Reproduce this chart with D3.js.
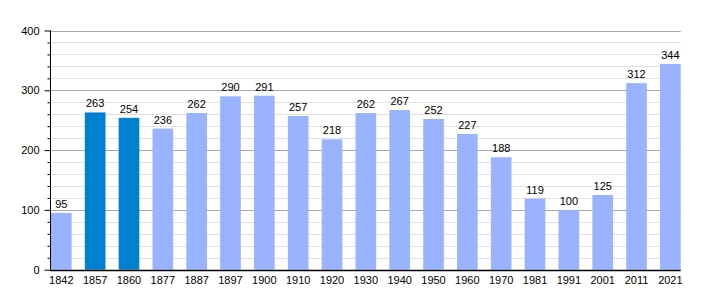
<!DOCTYPE html>
<html>
<head>
<meta charset="utf-8">
<script src="https://cdn.jsdelivr.net/npm/d3@7"></script>
<style>
  body { margin: 0; background: #fff; }
  text { font-family: "Liberation Sans", Arial, sans-serif; font-size: 11px; fill: #000; }
</style>
</head>
<body>
<svg id="chart" width="710" height="300"></svg>
<script>
const years = ["1842", "1857", "1860", "1877", "1887", "1897", "1900", "1910", "1920", "1930",
  "1940", "1950", "1960", "1970", "1981", "1991", "2001", "2011", "2021"];
const population = [95, 263, 254, 236, 262, 290, 291, 257, 218, 262,
  267, 252, 227, 188, 119, 100, 125, 312, 344];
const highlighted = ["1857", "1860"];
const yTicks = [0, 100, 200, 300, 400];

const svg = d3.select("#chart");
const plotLeft = 50, plotRight = 680.7, plotTop = 30.5, plotBottom = 269.7;

const x = d3.scaleBand()
  .domain(years)
  .range([plotLeft + 1, plotRight])
  .paddingInner(0.39)
  .paddingOuter(0)
  .align(0);

const y = d3.scaleLinear().domain([0, 400]).range([plotBottom, plotTop]);

// minor gridlines
svg.append("g")
  .selectAll("line")
  .data(d3.range(20, 400, 20).filter((d) => d % 100 !== 0))
  .join("line")
  .attr("x1", plotLeft)
  .attr("x2", plotRight)
  .attr("y1", (d) => Math.round(y(d)) + 0.5)
  .attr("y2", (d) => Math.round(y(d)) + 0.5)
  .attr("stroke", "#e0e0e0");

// major gridlines
svg.append("g")
  .selectAll("line")
  .data(yTicks.filter((d) => d > 0))
  .join("line")
  .attr("x1", plotLeft)
  .attr("x2", plotRight)
  .attr("y1", (d) => Math.round(y(d)) + 0.5)
  .attr("y2", (d) => Math.round(y(d)) + 0.5)
  .attr("stroke", "#a8a8a8");

// bars
svg.append("g")
  .selectAll("rect")
  .data(years)
  .join("rect")
  .attr("x", (d) => x(d))
  .attr("width", x.bandwidth())
  .attr("y", (d, i) => y(population[i]))
  .attr("height", (d, i) => y(0) - y(population[i]))
  .attr("fill", (d) => (highlighted.includes(d) ? "#0080d0" : "#99b3ff"));

// value labels
svg.append("g")
  .selectAll("text")
  .data(years)
  .join("text")
  .attr("x", (d) => x(d) + x.bandwidth() / 2)
  .attr("y", (d, i) => y(population[i]) - 5)
  .attr("text-anchor", "middle")
  .text((d, i) => population[i]);

// y axis
const yAxis = svg.append("g").attr("transform", `translate(${plotLeft + 0.5},0)`);
yAxis.call(
  d3.axisLeft(y)
    .tickValues(d3.range(0, 401, 20))
    .tickSize(3)
    .tickFormat("")
);
yAxis.selectAll(".tick text").remove();
yAxis.selectAll(".tick")
  .filter((d) => d % 100 === 0)
  .select("line")
  .attr("x2", -6);
yAxis.selectAll(".tick")
  .filter((d) => d % 100 === 0)
  .append("text")
  .attr("x", -11)
  .attr("dy", "0.32em")
  .attr("text-anchor", "end")
  .text((d) => d);
yAxis.select(".domain").attr("d", `M0,${plotTop}V${plotBottom}`).attr("stroke", "#000");
yAxis.selectAll("line").attr("stroke", "#000");
yAxis.attr("font-size", null).attr("font-family", null);

// x axis
svg.append("line")
  .attr("x1", plotLeft)
  .attr("x2", plotRight)
  .attr("y1", Math.round(plotBottom) + 0.5)
  .attr("y2", Math.round(plotBottom) + 0.5)
  .attr("stroke", "#000")
  .attr("stroke-width", 1.5);

svg.append("g")
  .selectAll("text")
  .data(years)
  .join("text")
  .attr("x", (d) => x(d) + x.bandwidth() / 2)
  .attr("y", 284)
  .attr("text-anchor", "middle")
  .text((d) => d);
</script>
</body>
</html>
